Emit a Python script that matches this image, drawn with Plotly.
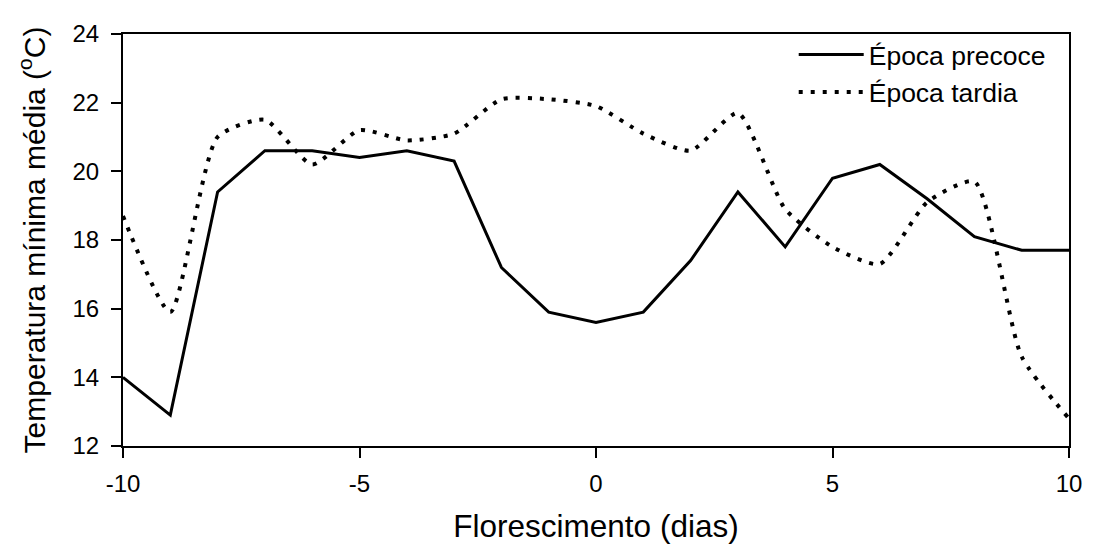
import plotly.graph_objects as go

dias = list(range(-10, 11))
precoce = [14.0, 12.9, 19.4, 20.6, 20.6, 20.4, 20.6, 20.3, 17.2, 15.9, 15.6,
           15.9, 17.4, 19.4, 17.8, 19.8, 20.2, 19.2, 18.1, 17.7, 17.7]
tardia = [18.7, 15.9, 21.0, 21.5, 20.2, 21.2, 20.9, 21.1, 22.1, 22.1, 21.9,
          21.1, 20.6, 21.7, 18.9, 17.8, 17.3, 19.1, 19.7, 14.6, 12.8]

x_ticks = [-10, -5, 0, 5, 10]
y_ticks = [12, 14, 16, 18, 20, 22, 24]

FONT = "Liberation Sans, Arial, sans-serif"

fig = go.Figure()
fig.add_trace(go.Scatter(
    x=dias, y=precoce, mode="lines", name="Época precoce",
    line=dict(color="black", width=3)))
fig.add_trace(go.Scatter(
    x=dias, y=tardia, mode="lines", name="Época tardia",
    line=dict(color="black", width=4, dash="4px,8px", shape="spline", smoothing=0.6)))

fig.update_layout(
    width=1097, height=545,
    margin=dict(l=115, r=36, t=21, b=107),
    paper_bgcolor="white", plot_bgcolor="white",
    font=dict(family=FONT, color="black", size=24),
    showlegend=True,
    legend=dict(x=0.709, y=1.008, xanchor="left", yanchor="top",
                bgcolor="rgba(0,0,0,0)", font=dict(size=26.5, family=FONT),
                itemwidth=65),
    xaxis=dict(range=[-10, 10], tickvals=x_ticks, ticktext=[str(v) for v in x_ticks],
               showgrid=False, zeroline=False, showline=True, linecolor="black",
               linewidth=2, mirror=True, ticks="outside", ticklen=10, tickwidth=2,
               tickcolor="black", tickfont=dict(size=24), ticklabelstandoff=5,
               title=dict(text="Florescimento (dias)", font=dict(size=31.5), standoff=19)),
    yaxis=dict(range=[12, 24], tickvals=y_ticks, ticktext=[str(v) for v in y_ticks],
               showgrid=False, zeroline=False, showline=True, linecolor="black",
               linewidth=2, mirror=True, ticks="outside", ticklen=10, tickwidth=2,
               tickcolor="black", tickfont=dict(size=24), ticklabelstandoff=7,
               title=dict(text="Temperatura mínima média (<sup>o</sup>C)",
                          font=dict(size=30), standoff=18)),
)

fig.write_html("out.html")
